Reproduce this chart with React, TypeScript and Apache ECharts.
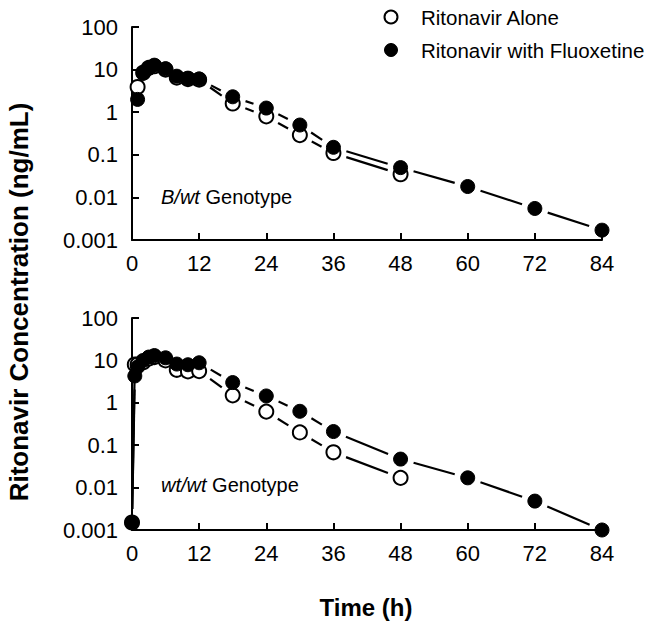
import React, { useEffect, useRef } from "react";
import * as echarts from "echarts";

// ---- data ----
const xMin = 0;
const xMax = 84;
const xInterval = 12;
const yTickLabels = ["0.001", "0.01", "0.1", "1", "10", "100"];

const seriesNames = ["Ritonavir Alone", "Ritonavir with Fluoxetine"];
const panelLabels = [
  { italic: "B/wt", rest: " Genotype" },
  { italic: "wt/wt", rest: " Genotype" },
];

// B/wt genotype (top panel)
const bwtTimeAlone = [1, 2, 3, 4, 6, 8, 10, 12, 18, 24, 30, 36, 48];
const bwtAlone = [3.9, 8.5, 11, 12, 10, 6.5, 6, 5.8, 1.6, 0.8, 0.29, 0.11, 0.035];
const bwtTimeFlx = [1, 2, 3, 4, 6, 8, 10, 12, 18, 24, 30, 36, 48, 60, 72, 84];
const bwtFlx = [2, 8.2, 10.8, 12.7, 10.5, 7, 6.3, 6, 2.3, 1.25, 0.5, 0.15, 0.05, 0.018, 0.0055, 0.0017];

// wt/wt genotype (bottom panel)
const wtTimeAlone = [0, 0.5, 1, 2, 3, 4, 6, 8, 10, 12, 18, 24, 30, 36, 48];
const wtAlone = [0.0015, 8, 8, 9, 11, 12, 10, 6, 5.5, 5.6, 1.5, 0.62, 0.2, 0.068, 0.017];
const wtTimeFlx = [0, 0.5, 1, 2, 3, 4, 6, 8, 10, 12, 18, 24, 30, 36, 48, 60, 72, 84];
const wtFlx = [0.0015, 4.3, 7, 10, 12, 13, 11.5, 8.2, 7.9, 8.8, 3, 1.45, 0.63, 0.21, 0.047, 0.017, 0.0048, 0.001];

const FONT = '"Liberation Sans", Arial, Helvetica, sans-serif';
const GAP = 13.5;

function points(t: number[], v: number[]) {
  return t.map((x, i) => [x, v[i]]);
}
function segments(t: number[], v: number[]) {
  const out: number[][] = [];
  for (let i = 0; i < t.length - 1; i++) out.push([t[i], v[i], t[i + 1], v[i + 1]]);
  return out;
}

function renderSeg(_params: any, api: any) {
  const p0 = api.coord([api.value(0), api.value(1)]);
  const p1 = api.coord([api.value(2), api.value(3)]);
  const dx = p1[0] - p0[0];
  const dy = p1[1] - p0[1];
  const len = Math.hypot(dx, dy);
  if (len <= 2 * GAP + 1) return { type: "group", children: [] };
  const ux = dx / len;
  const uy = dy / len;
  return {
    type: "line",
    shape: {
      x1: p0[0] + ux * GAP,
      y1: p0[1] + uy * GAP,
      x2: p1[0] - ux * GAP,
      y2: p1[1] - uy * GAP,
    },
    style: { stroke: "#000", lineWidth: 2.2 },
  };
}

export default function App() {
  const ref = useRef<HTMLDivElement>(null);
  useEffect(() => {
    if (!ref.current) return;
    const chart = echarts.init(ref.current, undefined, { renderer: "svg" });

    const grids = [
      { left: 132, right: 47, top: 27, height: 213 },
      { left: 132, right: 47, top: 318, height: 212 },
    ];
    const axisLine = { show: true, lineStyle: { color: "#000", width: 2 } };
    const axisTick = { show: true, inside: true, length: 7, lineStyle: { color: "#000", width: 2 } };

    const xAxes = grids.map((_, i) => ({
      type: "value",
      gridIndex: i,
      min: xMin,
      max: xMax,
      interval: xInterval,
      axisLine,
      axisTick,
      splitLine: { show: false },
      axisLabel: { fontSize: 22, color: "#000", fontFamily: FONT, margin: 12 },
    }));
    const yAxes = grids.map((_, i) => ({
      type: "log",
      logBase: 10,
      gridIndex: i,
      min: 0.001,
      max: 100,
      axisLine,
      axisTick,
      minorTick: { show: false },
      splitLine: { show: false },
      axisLabel: {
        fontSize: 22,
        color: "#000",
        fontFamily: FONT,
        margin: 14,
        formatter: (v: number) => yTickLabels[Math.round(Math.log10(v)) + 3] ?? "",
      },
    }));

    const openStyle = { color: "#fff", borderColor: "#000", borderWidth: 2, opacity: 1 };
    const filledStyle = { color: "#000", borderColor: "#000", borderWidth: 1, opacity: 1 };

    const panels = [
      { ta: bwtTimeAlone, va: bwtAlone, tf: bwtTimeFlx, vf: bwtFlx },
      { ta: wtTimeAlone, va: wtAlone, tf: wtTimeFlx, vf: wtFlx },
    ];
    const series: any[] = [];
    panels.forEach((p, i) => {
      series.push({
        type: "custom",
        name: seriesNames[0] + " line",
        xAxisIndex: i,
        yAxisIndex: i,
        renderItem: renderSeg,
        encode: { x: [0, 2], y: [1, 3] },
        data: segments(p.ta, p.va),
        z: 2,
        silent: true,
      });
      series.push({
        type: "custom",
        name: seriesNames[1] + " line",
        xAxisIndex: i,
        yAxisIndex: i,
        renderItem: renderSeg,
        encode: { x: [0, 2], y: [1, 3] },
        data: segments(p.tf, p.vf),
        z: 2,
        silent: true,
      });
      series.push({
        type: "scatter",
        name: seriesNames[0],
        xAxisIndex: i,
        yAxisIndex: i,
        symbol: "circle",
        symbolSize: 14,
        itemStyle: openStyle,
        data: points(p.ta, p.va),
        z: 3,
      });
      series.push({
        type: "scatter",
        name: seriesNames[1],
        xAxisIndex: i,
        yAxisIndex: i,
        symbol: "circle",
        symbolSize: 14,
        itemStyle: filledStyle,
        data: points(p.tf, p.vf),
        z: 4,
      });
    });

    const labelYs = [197, 485];
    const graphic: any[] = panelLabels.map((l, i) => ({
      type: "text",
      x: 161,
      y: labelYs[i],
      style: {
        text: `{i|${l.italic}}${l.rest}`,
        rich: { i: { fontStyle: "italic", fontSize: 20, fontFamily: FONT, fill: "#000" } },
        fontSize: 20,
        fontFamily: FONT,
        fill: "#000",
        verticalAlign: "middle",
        align: "left",
      },
    }));

    // legend
    const legendYs = [17, 50];
    seriesNames.forEach((name, i) => {
      graphic.push({
        type: "circle",
        shape: { cx: 391, cy: legendYs[i], r: 6.5 },
        style: i === 0 ? { fill: "#fff", stroke: "#000", lineWidth: 2 } : { fill: "#000", stroke: "#000", lineWidth: 1 },
      });
      graphic.push({
        type: "text",
        x: 421,
        y: legendYs[i],
        style: {
          text: name,
          fontSize: 20.5,
          fontFamily: FONT,
          fill: "#000",
          align: "left",
          verticalAlign: "middle",
        },
      });
    });

    graphic.push({
      type: "text",
      x: 19,
      y: 302,
      rotation: Math.PI / 2,
      style: {
        text: "Ritonavir Concentration (ng/mL)",
        font: `bold 26px ${FONT}`,
        fill: "#000",
        align: "center",
        verticalAlign: "middle",
      },
    });
    graphic.push({
      type: "text",
      x: 366,
      y: 607,
      style: {
        text: "Time (h)",
        font: `bold 24px ${FONT}`,
        fill: "#000",
        align: "center",
        verticalAlign: "middle",
      },
    });

    chart.setOption({
      animation: false,
      textStyle: { fontFamily: FONT },
      grid: grids,
      xAxis: xAxes,
      yAxis: yAxes,
      series,
      graphic,
    });
    return () => chart.dispose();
  }, []);
  return (
    <div
      ref={ref}
      style={{ position: "fixed", left: 0, top: 0, width: 649, height: 622, background: "#fff" }}
    />
  );
}
